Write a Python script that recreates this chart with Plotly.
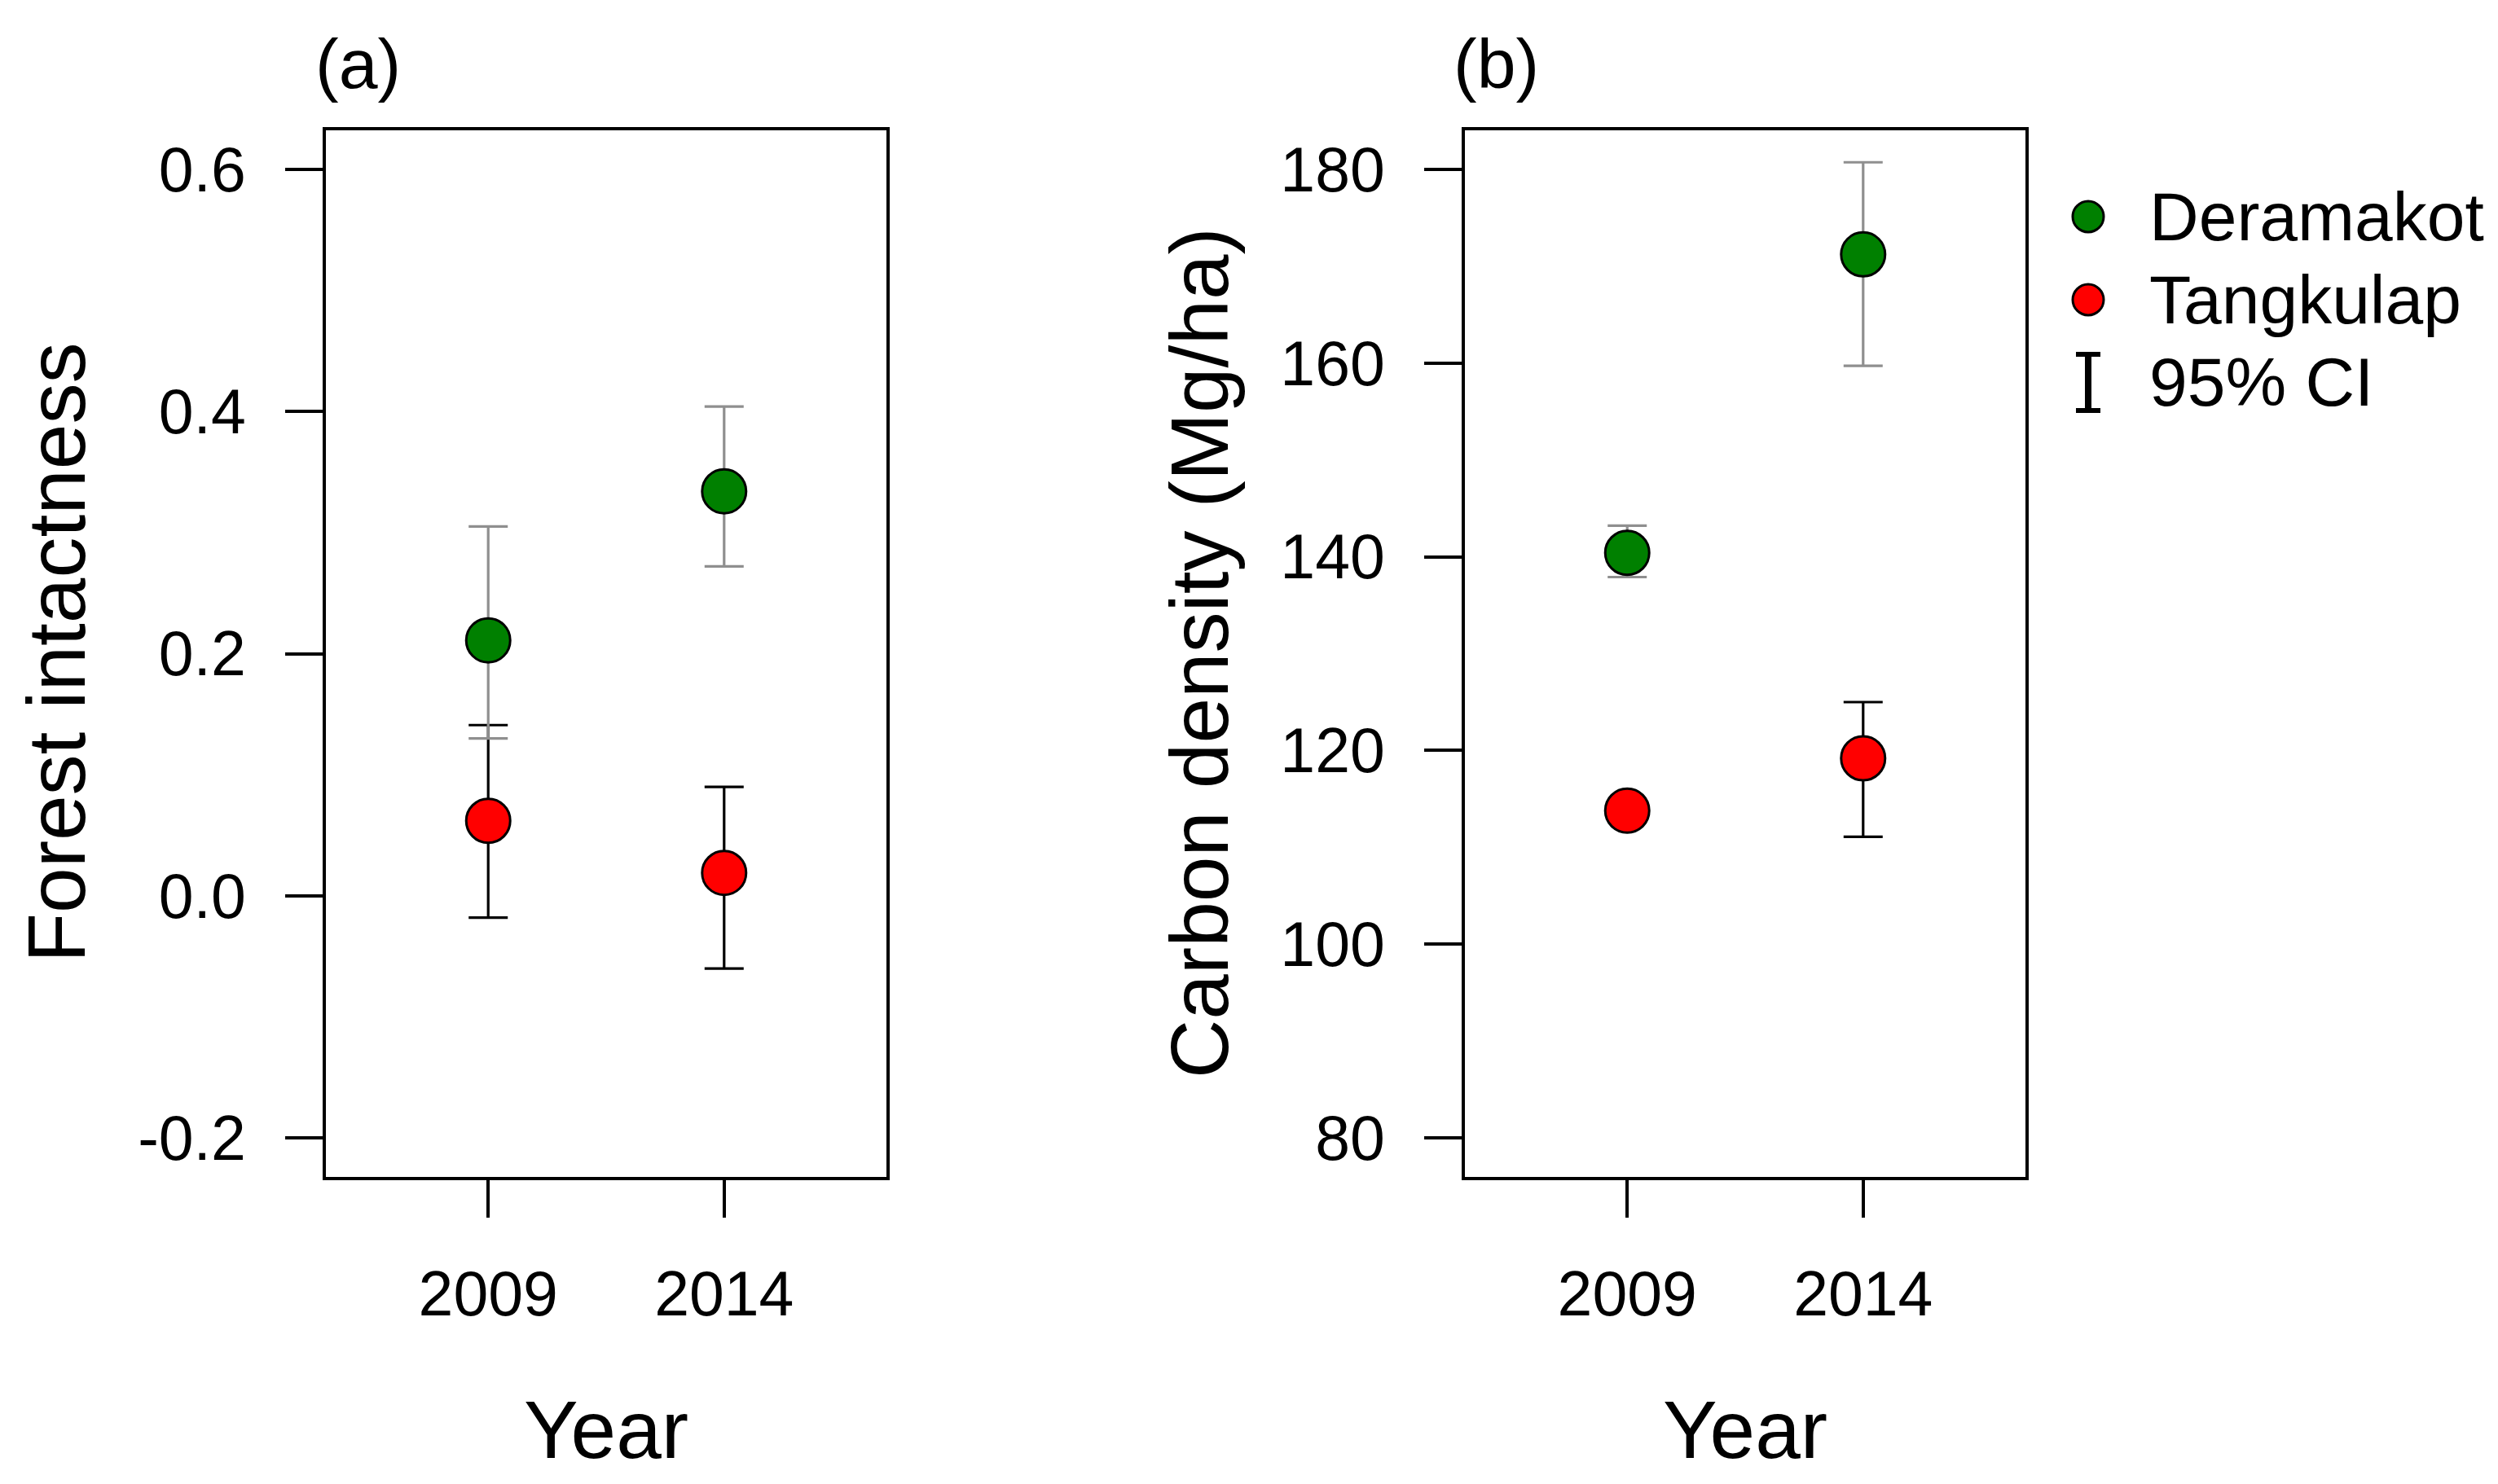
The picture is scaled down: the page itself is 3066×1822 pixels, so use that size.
import plotly.graph_objects as go

# ---------------- data ----------------
years = ["2009", "2014"]
xpos = [1, 2]

intact_der = [0.211, 0.334]
intact_der_lo = [0.130, 0.272]
intact_der_hi = [0.305, 0.404]
intact_tan = [0.062, 0.019]
intact_tan_lo = [-0.018, -0.060]
intact_tan_hi = [0.141, 0.090]

carbon_der = [140.4, 171.2]
carbon_der_lo = [137.9, 159.7]
carbon_der_hi = [143.2, 180.7]
carbon_tan = [113.8, 119.2]
carbon_tan_lo = [113.3, 111.1]
carbon_tan_hi = [114.3, 125.0]

ticks_a = [-0.2, 0.0, 0.2, 0.4, 0.6]
ticktext_a = ["-0.2", "0.0", "0.2", "0.4", "0.6"]
ticks_b = [80, 100, 120, 140, 160, 180]
ticktext_b = [str(v) for v in ticks_b]

series_names = ["Deramakot", "Tangkulap", "95% CI"]

# ---------------- style ----------------
W, H = 3066, 1822
FONT = "Liberation Sans, Arial, sans-serif"
GREEN = "#008000"
RED = "#FF0000"
GREY = "#8f8f8f"
BLACK = "#000000"
TICKFS = 77
TITLEFS = 100
LW = 3.5


def px(x):
    return x / W


def py(y):
    return 1 - y / H


fig = go.Figure()


def add_series(xa, ya, vals, lo, hi, color, barcolor):
    fig.add_trace(go.Scatter(
        x=xpos, y=vals, mode="markers", xaxis=xa, yaxis=ya, showlegend=False,
        marker=dict(size=54, color=color, line=dict(color=BLACK, width=3)),
        error_y=dict(type="data", symmetric=False,
                     array=[h - v for h, v in zip(hi, vals)],
                     arrayminus=[v - l for v, l in zip(vals, lo)],
                     color=barcolor, thickness=3.2, width=24),
    ))


add_series("x", "y", intact_tan, intact_tan_lo, intact_tan_hi, RED, BLACK)
add_series("x", "y", intact_der, intact_der_lo, intact_der_hi, GREEN, GREY)
add_series("x2", "y2", carbon_tan, carbon_tan_lo, carbon_tan_hi, RED, BLACK)
add_series("x2", "y2", carbon_der, carbon_der_lo, carbon_der_hi, GREEN, GREY)

box_top, box_bot = 152, 1437
ax_common = dict(showline=True, mirror=True, linecolor=BLACK, linewidth=LW,
                 ticks="outside", ticklen=46, tickwidth=LW, tickcolor=BLACK,
                 showgrid=False, zeroline=False,
                 tickfont=dict(family=FONT, size=TICKFS, color=BLACK))
XSTAND, YSTAND = 28, 33

fig.update_layout(
    width=W, height=H,
    margin=dict(l=0, r=0, t=0, b=0),
    paper_bgcolor="white", plot_bgcolor="white",
    showlegend=False,
    xaxis=dict(domain=[px(392), px(1080)], range=[0.312, 2.688],
               tickvals=xpos, ticktext=years, ticklabelstandoff=XSTAND, **ax_common),
    yaxis=dict(domain=[py(box_bot), py(box_top)], range=[-0.232, 0.632],
               tickvals=ticks_a, ticktext=ticktext_a, ticklabelstandoff=YSTAND, **ax_common),
    xaxis2=dict(domain=[px(1790), px(2478)], range=[0.312, 2.688], anchor="y2",
                tickvals=xpos, ticktext=years, ticklabelstandoff=XSTAND, **ax_common),
    yaxis2=dict(domain=[py(box_bot), py(box_top)], range=[76, 184], anchor="x2",
                tickvals=ticks_b, ticktext=ticktext_b, ticklabelstandoff=YSTAND, **ax_common),
)

ann = []
# axis titles
for cx in [(392 + 1080) / 2, (1790 + 2478) / 2]:
    ann.append(dict(text="Year", x=px(cx), y=py(1747), xref="paper", yref="paper",
                    xanchor="center", yanchor="middle", showarrow=False,
                    font=dict(family=FONT, size=TITLEFS, color=BLACK)))
ann.append(dict(text="Forest intactness", x=px(61), y=py(794), xref="paper", yref="paper",
                xanchor="center", yanchor="middle", textangle=-90, showarrow=False,
                font=dict(family=FONT, size=TITLEFS, color=BLACK)))
ann.append(dict(text="Carbon density (Mg/ha)", x=px(1464), y=py(794), xref="paper", yref="paper",
                xanchor="center", yanchor="middle", textangle=-90, showarrow=False,
                font=dict(family=FONT, size=TITLEFS, color=BLACK)))
# panel labels
for lab, lx in [("(a)", 377), ("(b)", 1774)]:
    ann.append(dict(text=lab, x=px(lx), y=py(70), xref="paper", yref="paper",
                    xanchor="left", yanchor="middle", showarrow=False,
                    font=dict(family=FONT, size=86, color=BLACK)))

# legend (manual)
leg_x, leg_text_x = 2555, 2628
leg_rows = [258, 360, 461]
shapes = []
r = 19
for color, yy in [(GREEN, leg_rows[0]), (RED, leg_rows[1])]:
    shapes.append(dict(type="circle", xref="paper", yref="paper",
                       x0=px(leg_x - r), x1=px(leg_x + r), y0=py(yy + r), y1=py(yy - r),
                       fillcolor=color, line=dict(color=BLACK, width=3)))
ci_top, ci_bot, ci_hw = 427, 496, 15
shapes.append(dict(type="line", xref="paper", yref="paper", x0=px(leg_x), x1=px(leg_x),
                   y0=py(ci_top), y1=py(ci_bot), line=dict(color=BLACK, width=8)))
for yy in [ci_top, ci_bot]:
    shapes.append(dict(type="line", xref="paper", yref="paper", x0=px(leg_x - ci_hw),
                       x1=px(leg_x + ci_hw), y0=py(yy), y1=py(yy), line=dict(color=BLACK, width=6)))
for name, yy in zip(series_names, leg_rows):
    ann.append(dict(text=name, x=px(leg_text_x), y=py(yy), xref="paper", yref="paper",
                    xanchor="left", yanchor="middle", showarrow=False,
                    font=dict(family=FONT, size=84, color=BLACK)))

fig.update_layout(annotations=ann, shapes=shapes)
fig.write_html("out.html")
